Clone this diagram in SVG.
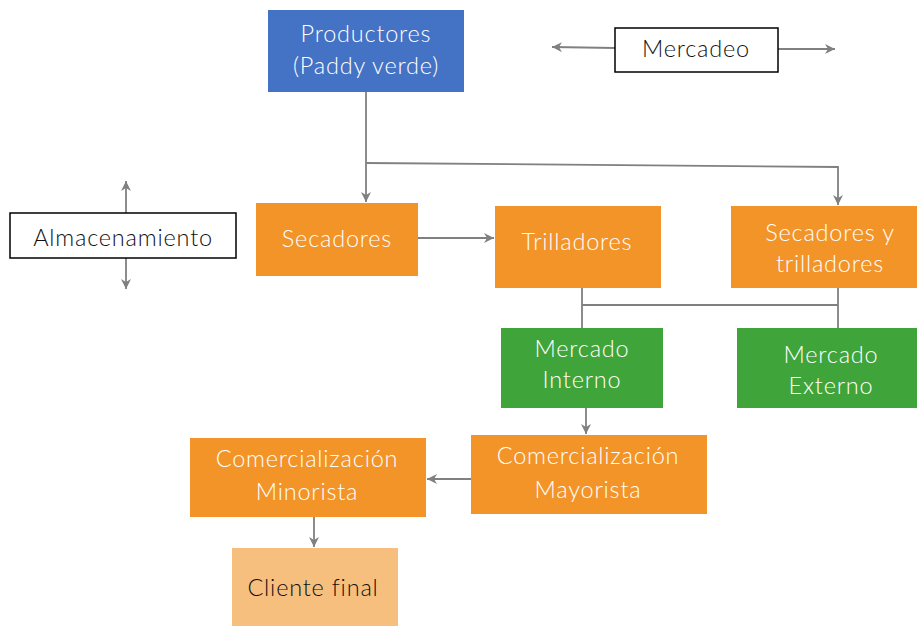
<svg xmlns="http://www.w3.org/2000/svg" width="917" height="626" viewBox="0 0 917 626">
<defs>
<marker id="ah" viewBox="0 0 10 10" refX="10" refY="5" markerWidth="10" markerHeight="10" markerUnits="userSpaceOnUse" orient="auto-start-reverse">
<path d="M0,0 L10,5 L0,10 L3,5 Z" fill="#808080"/>
</marker>
<style>
text{font-family:"Lato","Open Sans","Liberation Sans",sans-serif;font-size:23.5px;text-anchor:middle;font-weight:300;letter-spacing:0.8px}
.w{fill:#ffffff}
.k{fill:#111111}
.orange{fill:#F29427}
.green{fill:#3FA43A}
.blue{fill:#4472C4}
.light{fill:#F7BF7E}
.box{fill:#ffffff;stroke:#000000;stroke-width:1.5}
.c{fill:none;stroke:#808080;stroke-width:1.8}
</style>
</defs>
<g id="connectors">
<line class="c" x1="366" y1="92" x2="366" y2="202" marker-end="url(#ah)"/>
<polyline class="c" points="366,163 838,167 838,205" marker-end="url(#ah)"/>
<line class="c" x1="418" y1="238" x2="494" y2="238" marker-end="url(#ah)"/>
<line class="c" x1="582" y1="288" x2="582" y2="328"/>
<line class="c" x1="838" y1="288" x2="838" y2="328"/>
<line class="c" x1="582" y1="305" x2="838" y2="305"/>
<line class="c" x1="586" y1="408" x2="586" y2="434" marker-end="url(#ah)"/>
<line class="c" x1="471" y1="479" x2="427" y2="479" marker-end="url(#ah)"/>
<line class="c" x1="314" y1="517" x2="314" y2="547" marker-end="url(#ah)"/>
<line class="c" x1="615" y1="48" x2="552" y2="47" marker-end="url(#ah)"/>
<line class="c" x1="778" y1="49" x2="835" y2="49" marker-end="url(#ah)"/>
<line class="c" x1="126" y1="213" x2="126" y2="181" marker-end="url(#ah)"/>
<line class="c" x1="126" y1="258" x2="126" y2="289" marker-end="url(#ah)"/>
</g>
<g id="productores">
<rect class="blue" x="268" y="10" width="196" height="82"/>
<text class="w" x="366" y="42">Productores</text>
<text class="w" x="366" y="74">(Paddy verde)</text>
</g>
<g id="mercadeo">
<rect class="box" x="615" y="28" width="163" height="44"/>
<text class="k" x="696" y="57">Mercadeo</text>
</g>
<g id="almacenamiento">
<rect class="box" x="10" y="213" width="226" height="45"/>
<text class="k" x="123" y="246">Almacenamiento</text>
</g>
<g id="secadores">
<rect class="orange" x="256" y="203" width="162" height="73"/>
<text class="w" x="337" y="247">Secadores</text>
</g>
<g id="trilladores">
<rect class="orange" x="495" y="206" width="166" height="82"/>
<text class="w" x="577" y="250">Trilladores</text>
</g>
<g id="secadores-trilladores">
<rect class="orange" x="731" y="206" width="186" height="82"/>
<text class="w" x="830" y="241">Secadores y</text>
<text class="w" x="830" y="272">trilladores</text>
</g>
<g id="mercado-interno">
<rect class="green" x="501" y="328" width="162" height="80"/>
<text class="w" x="582" y="357">Mercado</text>
<text class="w" x="582" y="388">Interno</text>
</g>
<g id="mercado-externo">
<rect class="green" x="737" y="328" width="180" height="80"/>
<text class="w" x="831" y="363">Mercado</text>
<text class="w" x="831" y="394">Externo</text>
</g>
<g id="comercializacion-mayorista">
<rect class="orange" x="471" y="435" width="236" height="79"/>
<text class="w" x="588" y="464">Comercialización</text>
<text class="w" x="588" y="498">Mayorista</text>
</g>
<g id="comercializacion-minorista">
<rect class="orange" x="190" y="438" width="236" height="79"/>
<text class="w" x="307" y="467">Comercialización</text>
<text class="w" x="307" y="500">Minorista</text>
</g>
<g id="cliente-final">
<rect class="light" x="232" y="548" width="166" height="78"/>
<text class="k" x="313" y="596">Cliente final</text>
</g>
</svg>
